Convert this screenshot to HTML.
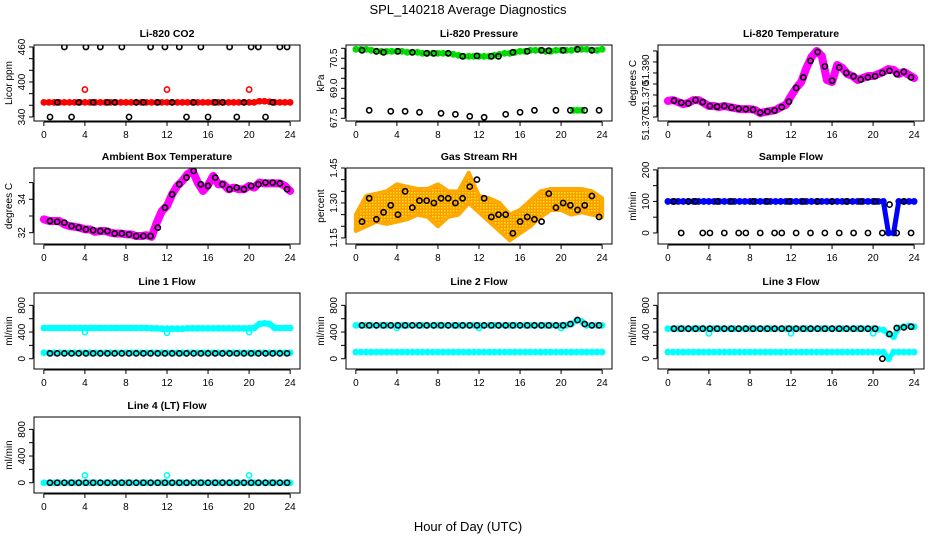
<!DOCTYPE html>
<html><head><meta charset="utf-8">
<style>
html,body{margin:0;padding:0;background:#fff;}
svg{display:block;font-family:"Liberation Sans",sans-serif;}
</style></head>
<body>
<svg id="chart" width="936" height="540" viewBox="0 0 936 540" xmlns="http://www.w3.org/2000/svg">
<defs>
<pattern id="rhpat" width="3" height="3" patternUnits="userSpaceOnUse"><rect width="3" height="3" fill="#ff9900"/><rect width="1.5" height="1.5" fill="#ffee00"/></pattern>
<pattern id="grpat" width="3" height="3" patternUnits="userSpaceOnUse"><rect width="3" height="3" fill="#00e000"/><rect width="1" height="1" fill="#008800"/></pattern>
</defs>
<text x="468" y="14" text-anchor="middle" font-size="13">SPL_140218  Average Diagnostics</text>
<text x="468" y="531" text-anchor="middle" font-size="13">Hour of Day (UTC)</text>
</svg>
<script>
const hA=[0,0.5,1,1.5,2,2.5,3,3.5,4,4.5,5,5.5,6,6.5,7,7.5,8,8.5,9,9.5,10,10.5,11,11.5,12,12.5,13,13.5,14,14.5,15,15.5,16,16.5,17,17.5,18,18.5,19,19.5,20,20.5,21,21.5,22,22.5,23,23.5,24];
const hB=[0.6,1.3,2,2.7,3.4,4.1,4.8,5.5,6.2,6.9,7.6,8.3,9,9.7,10.4,11.1,11.8,12.5,13.2,13.9,14.6,15.3,16,16.7,17.4,18.1,18.8,19.5,20.2,20.9,21.6,22.3,23,23.7];
const hH=[0,1,2,3,4,5,6,7,8,9,10,11,12,13,14,15,16,17,18,19,20,21,22,23,24];
const hOut=[4,12,20];
const xTicks=[0,4,8,12,16,20,24];

const co2Red=[365,365,365,365,365,365,365,365,365,365,365,365,365,365,365,365,365,365,365,365,365,365,365,365,365,365,365,365,365,365,365,365,365,365,365,365,365,365,365,365,365,365,367,367,366,365,365,365,365];
const co2RedOut=[387,387,387];
const co2Black=[340,365,460,340,365,460,365,460,365,365,460,340,365,365,460,365,460,365,460,340,365,460,340,365,365,460,340,365,460,460,340,365,460,460];

const presGreen=[70.95,70.95,70.95,70.9,70.85,70.85,70.85,70.85,70.85,70.85,70.8,70.8,70.8,70.75,70.75,70.75,70.75,70.75,70.75,70.7,70.65,70.6,70.6,70.6,70.6,70.6,70.6,70.65,70.7,70.75,70.75,70.8,70.85,70.85,70.9,70.9,70.9,70.85,70.85,70.9,70.9,70.9,70.9,70.95,70.95,70.95,70.9,70.9,70.95];
const presGreenLowH=[21.2,21.6,22];
const presGreenLow=[67.9,67.9,67.9];
const presBlack=[70.9,67.9,70.85,70.8,67.85,70.85,67.85,70.8,67.8,70.75,70.75,67.75,70.75,67.7,70.6,67.6,70.62,67.55,70.6,70.6,67.7,70.8,67.8,70.85,67.9,70.9,70.88,67.9,70.9,67.9,70.95,67.9,70.9,67.9];

const liTempMag=[51.3723,51.3727,51.3718,51.3709,51.3714,51.3727,51.3727,51.3714,51.3700,51.3700,51.3695,51.3700,51.3695,51.3691,51.3686,51.3686,51.3686,51.3682,51.3668,51.3673,51.3677,51.3682,51.3695,51.3705,51.3745,51.3782,51.3809,51.3873,51.3923,51.3950,51.3927,51.3818,51.3809,51.3886,51.3873,51.3845,51.3836,51.3818,51.3827,51.3836,51.3836,51.3845,51.3855,51.3868,51.3864,51.3845,51.3855,51.3841,51.3827];
const liTempBlack=[51.3725,51.3715,51.3712,51.3727,51.3718,51.3700,51.3697,51.3700,51.3693,51.3688,51.3686,51.3683,51.3670,51.3675,51.3680,51.3695,51.3720,51.3782,51.3830,51.3905,51.3945,51.3880,51.3815,51.3875,51.3850,51.3835,51.3820,51.3830,51.3835,51.3850,51.3860,51.3845,51.3855,51.3830];

const ambMag=[32.8,32.7,32.7,32.7,32.5,32.4,32.35,32.3,32.2,32.2,32.05,32.1,32.1,32.0,31.95,31.95,31.9,31.9,31.8,31.8,31.85,31.75,32.6,33.3,33.6,34.3,34.8,35.1,35.5,35.7,35.0,34.5,34.85,35.4,34.9,34.9,34.6,34.7,34.6,34.6,34.8,34.7,35.0,34.95,34.95,34.95,34.95,34.8,34.5];
const ambBlack=[32.7,32.65,32.6,32.4,32.3,32.2,32.15,32.1,32.1,31.95,31.95,31.9,31.8,31.8,31.8,32.3,33.5,34.3,34.9,35.3,35.7,34.9,34.8,35.3,34.9,34.6,34.7,34.6,34.8,34.9,35.0,35.0,34.95,34.6];

const rhLow=[1.18,1.20,1.22,1.21,1.22,1.23,1.25,1.24,1.20,1.24,1.25,1.30,1.26,1.22,1.18,1.14,1.17,1.20,1.24,1.27,1.27,1.25,1.26,1.25,1.24];
const rhHigh=[1.25,1.33,1.34,1.35,1.38,1.37,1.36,1.36,1.38,1.35,1.35,1.43,1.33,1.32,1.30,1.25,1.27,1.31,1.35,1.36,1.36,1.36,1.36,1.35,1.32];
const rhBlack=[1.22,1.32,1.23,1.26,1.29,1.25,1.35,1.28,1.31,1.31,1.30,1.32,1.32,1.30,1.32,1.37,1.40,1.32,1.24,1.25,1.25,1.17,1.22,1.24,1.23,1.22,1.34,1.28,1.30,1.29,1.27,1.29,1.33,1.24];

const sfBlue=[100,100,100,100,100,100,100,100,100,100,100,100,100,100,100,100,100,100,100,100,100,100,100,100,100,100,100,100,100,100,100,100,100,100,100,100,100,100,100,100,100,100,100,0,0,100,100,100,100];
const sfBlack=[100,0,100,100,0,0,100,0,100,0,0,100,0,100,0,0,100,0,100,0,100,0,100,0,100,0,100,0,100,0,90,0,100,0];

const l1CyanHi=[460,460,460,460,460,460,460,460,460,460,460,460,460,460,460,460,460,460,460,460,460,455,455,450,450,450,450,450,455,455,455,455,455,455,455,455,455,455,455,455,455,460,520,530,520,460,460,460,460];
const l1CyanLo=[90,90,90,90,90,90,90,90,90,90,90,90,90,90,90,90,90,90,90,90,90,90,90,90,90,90,90,90,90,90,90,90,90,90,90,90,90,90,90,90,90,90,90,90,90,90,90,90,90];
const l1CyanOut=[400,390,400];
const l1Black=[80,80,80,80,80,80,80,80,80,80,80,80,80,80,80,80,80,80,80,80,80,80,80,80,80,80,80,80,80,80,80,80,80,80];

const l2CyanHi=[500,500,500,500,500,500,500,500,500,500,500,500,500,500,500,500,500,500,500,500,500,500,500,500,500,500,500,500,500,500,500,500,500,500,500,500,500,500,500,500,500,500,520,570,560,500,500,500,500];
const l2CyanLo=[100,100,100,100,100,100,100,100,100,100,100,100,100,100,100,100,100,100,100,100,100,100,100,100,100,100,100,100,100,100,100,100,100,100,100,100,100,100,100,100,100,100,100,100,100,100,100,100,100];
const l2CyanOut=[460,460,460];
const l2Black=[500,500,500,500,500,500,500,500,500,500,500,500,500,500,500,500,500,500,500,500,500,500,500,500,500,500,500,500,500,520,580,520,500,500];

const l3CyanHi=[450,450,450,450,450,450,450,450,450,450,450,450,450,450,450,450,450,450,450,450,450,450,450,450,450,450,450,450,450,450,450,450,450,450,450,450,450,450,450,450,450,440,430,370,330,460,480,490,480];
const l3CyanLo=[100,100,100,100,100,100,100,100,100,100,100,100,100,100,100,100,100,100,100,100,100,100,100,100,100,100,100,100,100,100,100,100,100,100,100,100,100,100,100,100,100,100,100,0,100,100,100,100,100];
const l3CyanOut=[380,380,380];
const l3Black=[450,450,450,450,450,450,450,450,450,450,450,450,450,450,450,450,450,450,450,450,450,450,450,450,450,450,450,450,450,0,370,460,470,480];

const l4Cyan=[0,0,0,0,0,0,0,0,0,0,0,0,0,0,0,0,0,0,0,0,0,0,0,0,0,0,0,0,0,0,0,0,0,0,0,0,0,0,0,0,0,0,0,0,0,0,0,0,0];
const l4CyanOut=[110,110,110];
const l4Black=[0,0,0,0,0,0,0,0,0,0,0,0,0,0,0,0,0,0,0,0,0,0,0,0,0,0,0,0,0,0,0,0,0,0];

const flowTicks=[-200,0,200,400,600,800,1000];
const flowLabels=[[0,"0"],[400,"400"],[800,"800"]];

const svg=document.getElementById('chart');
const NS='http://www.w3.org/2000/svg';
const colLeft=[34,346,658], rowTop=[45,168,293,417], BW=266, BH=76;

function mk(tag,attrs,parent){const e=document.createElementNS(NS,tag);for(const k in attrs)e.setAttribute(k,attrs[k]);parent.appendChild(e);return e;}

function panel(p){
  const L=colLeft[p.col],T=rowTop[p.row],R=L+BW,B=T+BH;
  const g=mk('g',{},svg);
  
  
  const xs=h=>L+(h+0.96)/25.92*BW;
  const ys=v=>B-(v-p.ymin)/(p.ymax-p.ymin)*BH;
  const clipId='clip-'+p.name;
  const cp=mk('clipPath',{id:clipId},g);
  mk('rect',{x:L,y:T,width:BW,height:BH},cp);
  const plot=mk('g',{'clip-path':'url(#'+clipId+')'},g);
  
  
  p.layers.forEach(ly=>{
    const sg=mk('g',{},plot);
    
    
    if(ly.kind==='band'){
      let pts=ly.x.map((h,i)=>xs(h)+','+ys(ly.y[i]));
      for(let i=ly.x.length-1;i>=0;i--)pts.push(xs(ly.x[i])+','+ys(ly.y2[i]));
      const pg=mk('polygon',{points:pts.join(' '),fill:ly.fill,stroke:ly.color,'stroke-width':4,'stroke-linejoin':'round'},sg);
      
      
      return;
    }
    if(ly.kind==='dense'){
      const pl=mk('polyline',{points:ly.x.map((h,i)=>xs(h)+','+ys(ly.y[i])).join(' '),fill:'none',stroke:ly.fill||ly.color,'stroke-width':ly.w||6,'stroke-linejoin':'round','stroke-linecap':'round'},sg);
      
      
    }
    ly.x.forEach((h,i)=>{
      const c=mk('circle',{cx:xs(h),cy:ys(ly.y[i]),r:ly.r||2.6,fill:'none',stroke:ly.color,'stroke-width':ly.sw||1.6},sg);
      
      
    });
  });
  const box=mk('rect',{x:L,y:T,width:BW,height:BH,fill:'none',stroke:'#000','stroke-width':1},g);
  
  
  const xa=mk('g',{},g);
  
  
  mk('line',{x1:xs(xTicks[0]),x2:xs(xTicks[xTicks.length-1]),y1:B+1,y2:B+1,stroke:'#000'},xa);
  xTicks.forEach(t=>{
    mk('line',{x1:xs(t),x2:xs(t),y1:B+1,y2:B+5,stroke:'#000'},xa);
    const tx=mk('text',{x:xs(t),y:B+17,'text-anchor':'middle','font-size':10},xa);
    
    
    tx.textContent=t;
  });
  const ya=mk('g',{},g);
  
  
  const tk=p.ticks.filter(t=>t>=p.ymin&&t<=p.ymax);
  mk('line',{x1:L-1,x2:L-1,y1:ys(tk[0]),y2:ys(tk[tk.length-1]),stroke:'#000'},ya);
  tk.forEach(t=>mk('line',{x1:L-5,x2:L-1,y1:ys(t),y2:ys(t),stroke:'#000'},ya));
  p.labels.forEach(lb=>{
    const y=ys(lb[0]);
    const tx=mk('text',{x:L-9,y:y,'text-anchor':'middle','font-size':10,transform:'rotate(-90 '+(L-9)+' '+y+')'},ya);
    
    
    tx.textContent=lb[1];
  });
  const yl=mk('text',{x:L-22,y:(T+B)/2,'text-anchor':'middle','font-size':10,transform:'rotate(-90 '+(L-22)+' '+((T+B)/2)+')'},g);
  
  
  yl.textContent=p.ylab;
  const tt=mk('text',{x:(L+R)/2,y:T-8,'text-anchor':'middle','font-size':10.5,'font-weight':'bold'},g);
  
  
  tt.textContent=p.title;
}

const K='#000';
panel({name:'co2',col:0,row:0,title:'Li-820 CO2',ylab:'Licor ppm',ymin:333.1,ymax:463.4,
  ticks:[340,360,380,400,420,440,460],labels:[[340,'340'],[400,'400'],[460,'460']],
  layers:[{name:'co2-red',kind:'dense',x:hA,y:co2Red,color:'#ff0000',w:5},
          {name:'co2-red-outliers',kind:'pts',x:hOut,y:co2RedOut,color:'#ff0000'},
          {name:'co2-black',kind:'pts',x:hB,y:co2Black,color:K}]});
panel({name:'pressure',col:1,row:0,title:'Li-820 Pressure',ylab:'kPa',ymin:67.365,ymax:71.165,
  ticks:[67.5,68,68.5,69,69.5,70,70.5,71],labels:[[67.5,'67.5'],[69,'69.0'],[70.5,'70.5']],
  layers:[{name:'pressure-green',kind:'dense',x:hA,y:presGreen,color:'#00dd00',fill:'url(#grpat)',w:5},
          {name:'pressure-green-low',kind:'dense',x:presGreenLowH,y:presGreenLow,color:'#00dd00',w:5},
          {name:'pressure-black',kind:'pts',x:hB,y:presBlack,color:K}]});
panel({name:'li-temp',col:2,row:0,title:'Li-820 Temperature',ylab:'degrees C',ymin:51.3632,ymax:51.3977,
  ticks:[51.365,51.37,51.375,51.38,51.385,51.39,51.395],labels:[[51.3614,'51.370'],[51.3745,'51.370'],[51.3865,'51.390']],
  layers:[{name:'li-temp-magenta',kind:'dense',x:hA,y:liTempMag,color:'#ff00ff',w:8},
          {name:'li-temp-black',kind:'pts',x:hB,y:liTempBlack,color:K}]});
panel({name:'ambient',col:0,row:1,title:'Ambient Box Temperature',ylab:'degrees C',ymin:31.323,ymax:35.874,
  ticks:[32,33,34,35],labels:[[32,'32'],[34,'34']],
  layers:[{name:'ambient-magenta',kind:'dense',x:hA,y:ambMag,color:'#ff00ff',w:8},
          {name:'ambient-black',kind:'pts',x:hB,y:ambBlack,color:K}]});
panel({name:'gas-rh',col:1,row:1,title:'Gas Stream RH',ylab:'percent',ymin:1.124,ymax:1.45,
  ticks:[1.15,1.2,1.25,1.3,1.35,1.4,1.45],labels:[[1.15,'1.15'],[1.3,'1.30'],[1.45,'1.45']],
  layers:[{name:'gas-rh-cloud',kind:'band',x:hH,y:rhLow,y2:rhHigh,color:'#ffaa00',fill:'url(#rhpat)'},
          {name:'gas-rh-black',kind:'pts',x:hB,y:rhBlack,color:K}]});
panel({name:'sample-flow',col:2,row:1,title:'Sample Flow',ylab:'ml/min',ymin:-35,ymax:206,
  ticks:[0,50,100,150,200],labels:[[0,'0'],[100,'100'],[200,'200']],
  layers:[{name:'sample-flow-blue',kind:'dense',x:hA,y:sfBlue,color:'#0000ff',w:5},
          {name:'sample-flow-black',kind:'pts',x:hB,y:sfBlack,color:K}]});
panel({name:'line1-flow',col:0,row:2,title:'Line 1 Flow',ylab:'ml/min',ymin:-154,ymax:985,
  ticks:flowTicks,labels:flowLabels,
  layers:[{name:'line1-cyan-high',kind:'dense',x:hA,y:l1CyanHi,color:'#00ffff',w:6},
          {name:'line1-cyan-low',kind:'dense',x:hA,y:l1CyanLo,color:'#00ffff',w:5},
          {name:'line1-cyan-outliers',kind:'pts',x:hOut,y:l1CyanOut,color:'#00ffff'},
          {name:'line1-black',kind:'pts',x:hB,y:l1Black,color:K}]});
panel({name:'line2-flow',col:1,row:2,title:'Line 2 Flow',ylab:'ml/min',ymin:-154,ymax:985,
  ticks:flowTicks,labels:flowLabels,
  layers:[{name:'line2-cyan-high',kind:'dense',x:hA,y:l2CyanHi,color:'#00ffff',w:5},
          {name:'line2-cyan-low',kind:'dense',x:hA,y:l2CyanLo,color:'#00ffff',w:5},
          {name:'line2-cyan-outliers',kind:'pts',x:hOut,y:l2CyanOut,color:'#00ffff'},
          {name:'line2-black',kind:'pts',x:hB,y:l2Black,color:K}]});
panel({name:'line3-flow',col:2,row:2,title:'Line 3 Flow',ylab:'ml/min',ymin:-154,ymax:985,
  ticks:flowTicks,labels:flowLabels,
  layers:[{name:'line3-cyan-high',kind:'dense',x:hA,y:l3CyanHi,color:'#00ffff',w:5},
          {name:'line3-cyan-low',kind:'dense',x:hA,y:l3CyanLo,color:'#00ffff',w:5},
          {name:'line3-cyan-outliers',kind:'pts',x:hOut,y:l3CyanOut,color:'#00ffff'},
          {name:'line3-black',kind:'pts',x:hB,y:l3Black,color:K}]});
panel({name:'line4-flow',col:0,row:3,title:'Line 4 (LT) Flow',ylab:'ml/min',ymin:-154,ymax:985,
  ticks:flowTicks,labels:flowLabels,
  layers:[{name:'line4-cyan',kind:'dense',x:hA,y:l4Cyan,color:'#00ffff',w:5},
          {name:'line4-cyan-outliers',kind:'pts',x:hOut,y:l4CyanOut,color:'#00ffff'},
          {name:'line4-black',kind:'pts',x:hB,y:l4Black,color:K}]});
</script>
</body></html>
